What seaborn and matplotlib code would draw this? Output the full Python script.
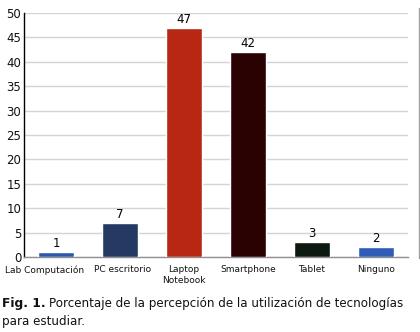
import matplotlib
matplotlib.use("Agg")
import matplotlib.pyplot as plt
import seaborn as sns
import pandas as pd
from matplotlib.lines import Line2D
import matplotlib.transforms as mtransforms

categories = ["Lab Computación", "PC escritorio", "Laptop\nNotebook", "Smartphone", "Tablet", "Ninguno"]
values = [1, 7, 47, 42, 3, 2]
colors = ["#2d59ad", "#253a63", "#b72714", "#2a0202", "#0d1a12", "#2f5cb6"]
yticks = [0, 5, 10, 15, 20, 25, 30, 35, 40, 45, 50]

sns.set_style("white")
plt.rcParams['font.family'] = ['DejaVu Sans']

df = pd.DataFrame({"cat": categories, "val": values})

fig = plt.figure(figsize=(4.2, 3.32), dpi=100)
ax = fig.add_axes([24/420, 1-257/332, (408-24)/420, (257-13)/332])

sns.barplot(data=df, x="cat", y="val", hue="cat", palette=colors, legend=False,
            width=0.5625, ax=ax, saturation=1, zorder=3)

ax.set_ylim(0, 50)
ax.set_xlim(-0.5, 5.5)
ax.set_yticks(yticks)
ax.set_yticklabels([str(t) for t in yticks], fontsize=8.5, color="#111111")
ax.yaxis.grid(True, color="#d4d4d4", linewidth=1, zorder=0)
ax.set_axisbelow(True)
ax.tick_params(axis="y", length=0, pad=2)
ax.tick_params(axis="x", length=0, pad=6, labelsize=6.5, labelcolor="#111111")
ax.set_xlabel("")
ax.set_ylabel("")
for s in ["top", "right"]:
    ax.spines[s].set_visible(False)
ax.spines["left"].set_color("black")
ax.spines["left"].set_linewidth(1)
ax.spines["bottom"].set_color("#909090")
ax.spines["bottom"].set_linewidth(1)

lbls = ax.get_xticklabels()
lbls[0].set_transform(lbls[0].get_transform() + mtransforms.ScaledTranslation(-11/100, 0, fig.dpi_scale_trans))
lbls[1].set_transform(lbls[1].get_transform() + mtransforms.ScaledTranslation(3/100, 0, fig.dpi_scale_trans))

for i, v in enumerate(values):
    ax.text(i, v + 0.4, str(v), ha="center", va="bottom", fontsize=8.5, color="black")

fig.add_artist(Line2D([419/420, 419/420], [1-258/332, 1-8/332], color="#a0a0a0", linewidth=1))

t1 = fig.text(2/420, 1-304/332, "Fig. 1.", fontsize=8.8, fontweight="bold", va="center", ha="left", color="#111111")
fig.canvas.draw()
bb = t1.get_window_extent()
fig.text(bb.x1/420 + 3/420, 1-304/332,
         "Porcentaje de la percepción de la utilización de tecnologías",
         fontsize=8.6, va="center", ha="left", color="#111111")
fig.text(2/420, 1-322/332, "para estudiar.", fontsize=8.6, va="center", ha="left", color="#111111")

fig.savefig("out.png", dpi=100)
